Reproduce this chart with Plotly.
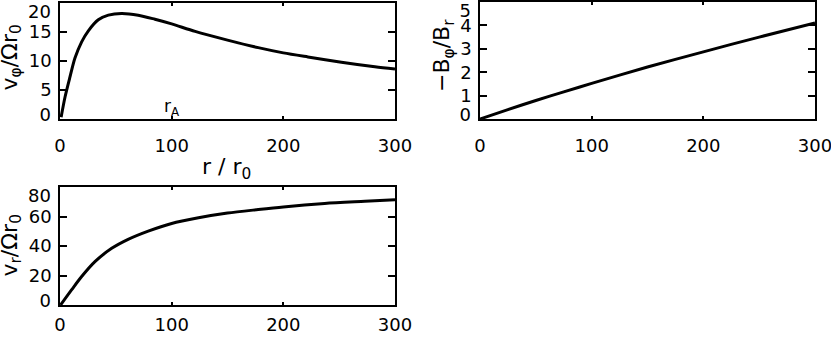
import plotly.graph_objects as go

# v_phi / (Omega r0) against r / r0
r_vphi = [1, 4.5, 9, 13.4, 19.4, 25.4, 34.3, 43.3, 55, 70, 85, 100, 121, 150,
          177.5, 200, 222, 252, 282, 300]
vphi = [0.3, 3.8, 7.3, 10.5, 13.3, 15.2, 17.1, 17.9, 18.2, 17.9, 17.2, 16.4,
        15.1, 13.6, 12.3, 11.4, 10.7, 9.8, 9.0, 8.6]

# -B_phi / B_r against r / r0
r_bphi = [0, 25, 50, 75, 100, 150, 200, 250, 300]
bphi = [0, 0.40, 0.79, 1.16, 1.52, 2.22, 2.87, 3.5, 4.1]

# v_r / (Omega r0) against r / r0
r_vr = [0.5, 10.5, 19.4, 31.3, 46.3, 61, 79, 100, 124, 150, 177.5, 200, 237,
        273, 300]
vr = [0, 10.4, 19.3, 29.4, 38.4, 44.5, 50.1, 55.3, 59.1, 62.3, 64.7, 66.5,
      68.8, 70.3, 71.4]

x_ticks = [0, 100, 200, 300]
y1_ticks = [0, 5, 10, 15, 20]
y2_ticks = [0, 1, 2, 3, 4, 5]
y3_ticks = [0, 20, 40, 60, 80]

W, H = 831, 349
FONT = dict(family="DejaVu Sans", size=18, color="black")
TFONT = dict(family="DejaVu Sans", size=22, color="black")


def px_x(a, b):
    return [a / W, b / W]


def px_y(top, bottom):
    return [1 - bottom / H, 1 - top / H]


def xaxis(domain, anchor, standoff):
    return dict(domain=domain, anchor=anchor, range=[0, 300],
                tickvals=x_ticks, ticktext=[str(t) for t in x_ticks],
                ticks="inside", ticklen=3, tickwidth=1.5, tickcolor="black",
                showline=True, linecolor="black", linewidth=1.5,
                mirror="ticks", showgrid=False, zeroline=False,
                automargin=False, ticklabeloverflow="allow",
                ticklabelstandoff=standoff, tickfont=FONT)


def yaxis(domain, anchor, ticks):
    # end labels are drawn by overlay axes so they sit inside the box height
    text = [""] + [str(t) for t in ticks[1:-1]] + [""]
    return dict(domain=domain, anchor=anchor, range=[ticks[0], ticks[-1]],
                tickvals=ticks, ticktext=text,
                ticks="inside", ticklen=7, tickwidth=1.5, tickcolor="black",
                showline=True, linecolor="black", linewidth=1.5,
                mirror="ticks", showgrid=False, zeroline=False,
                automargin=False, ticklabelstandoff=3, tickfont=FONT)


def end_label(over, anchor, ticks, val, pos, shift):
    return dict(overlaying=over, anchor=anchor, range=[ticks[0], ticks[-1]],
                tickvals=[val], ticktext=[str(val)], ticks="",
                ticklabelposition=pos, ticklabelshift=shift, showline=False,
                showgrid=False, zeroline=False, automargin=False,
                ticklabeloverflow="allow", ticklabelstandoff=8, tickfont=FONT)


line = dict(color="black", width=3, shape="spline", smoothing=0.8)

fig = go.Figure()
fig.add_trace(go.Scatter(x=r_vphi, y=vphi, mode="lines", line=line,
                         xaxis="x", yaxis="y"))
fig.add_trace(go.Scatter(x=r_bphi, y=bphi, mode="lines", line=line,
                         xaxis="x2", yaxis="y2"))
fig.add_trace(go.Scatter(x=r_vr, y=vr, mode="lines", line=line,
                         xaxis="x3", yaxis="y3"))
for ya, xa in [("y4", "x"), ("y5", "x"), ("y6", "x2"), ("y7", "x2"),
               ("y8", "x3"), ("y9", "x3")]:
    fig.add_trace(go.Scatter(x=[], y=[], xaxis=xa, yaxis=ya, showlegend=False))

d1x, d1y = px_x(60, 395), px_y(3, 119)
d2x, d2y = px_x(480, 815), px_y(2, 119)
d3x, d3y = px_x(60, 395), px_y(187, 305)

fig.update_layout(
    width=W, height=H, showlegend=False,
    margin=dict(l=0, r=0, t=0, b=0, autoexpand=False),
    paper_bgcolor="white", plot_bgcolor="white",
    font=FONT,
    xaxis=xaxis(d1x, "y", 10),
    yaxis=yaxis(d1y, "x", y1_ticks),
    xaxis2=xaxis(d2x, "y2", 10),
    yaxis2=yaxis(d2y, "x2", y2_ticks),
    xaxis3=xaxis(d3x, "y3", 3),
    yaxis3=yaxis(d3y, "x3", y3_ticks),
    yaxis4=end_label("y", "x", y1_ticks, y1_ticks[-1], "outside bottom", -4),
    yaxis5=end_label("y", "x", y1_ticks, y1_ticks[0], "outside top", 8),
    yaxis6=end_label("y2", "x2", y2_ticks, y2_ticks[-1], "outside bottom", -4),
    yaxis7=end_label("y2", "x2", y2_ticks, y2_ticks[0], "outside top", 8),
    yaxis8=end_label("y3", "x3", y3_ticks, y3_ticks[-1], "outside bottom", -4),
    yaxis9=end_label("y3", "x3", y3_ticks, y3_ticks[0], "outside top", 8),
)

ann = [
    dict(text="v<sub>φ</sub>/Ωr<sub>0</sub>", x=10.5 / W, y=1 - 58 / H, textangle=-90),
    dict(text="−B<sub>φ</sub>/B<sub>r</sub>", x=443 / W, y=1 - 55 / H, textangle=-90),
    dict(text="v<sub>r</sub>/Ωr<sub>0</sub>", x=10.5 / W, y=1 - 246 / H, textangle=-90),
    dict(text="r / r<sub>0</sub>", x=226 / W, y=1 - 169 / H),
]
for a in ann:
    fig.add_annotation(xref="paper", yref="paper", xanchor="center",
                       yanchor="middle", showarrow=False, font=TFONT, **a)
fig.add_annotation(text="r<sub>A</sub>", x=100, y=0, xref="x", yref="y",
                   xanchor="center", yanchor="bottom", yshift=-2,
                   showarrow=False,
                   font=dict(family="DejaVu Sans", size=17, color="black"))

# the page body has a default 8px margin; drop it so the figure fills the window
fig.write_html("out.html", config=dict(displayModeBar=False),
               post_script="document.body.style.margin='0';")
